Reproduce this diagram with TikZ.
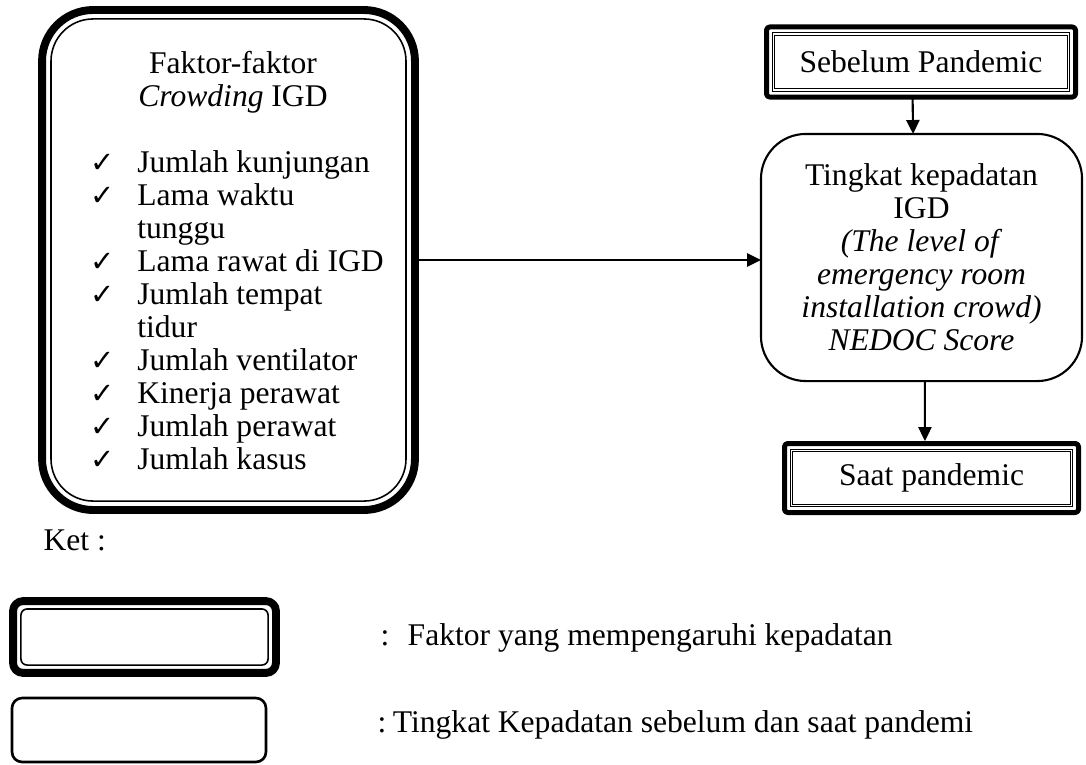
\documentclass[tikz,border=0pt]{standalone}
\usepackage{fontspec}
\setmainfont{Liberation Serif}
\newfontfamily\cekfont{DejaVu Sans}
\usetikzlibrary{arrows.meta}
\newcommand{\cek}{{\cekfont\fontsize{11}{11}\selectfont ✓}}

\begin{document}
\begin{tikzpicture}[
      x=0.38pt, y=-0.38pt,
      font=\fontsize{12}{12.54}\selectfont,
      kotak/.style={draw, line width=0.6pt, align=center, inner sep=0pt, outer sep=0pt},
      bulat/.style={draw, line width=0.8pt, rounded corners=17pt, align=center, inner sep=0pt, outer sep=0pt},
      ganda/.style={draw, double, line width=0.4pt, double distance=0.6pt, align=center, inner sep=0pt, outer sep=0pt},
      tebal/.style={line width=#1, line join=round},
      panah/.style={-{Triangle[length=5.3pt, width=5pt]}, line width=0.8pt},
      teks/.style={anchor=base west, inner sep=0pt}
    ]
    \useasboundingbox (0,0) rectangle (1086,764);
    % faktor crowding
    \node[kotak, rounded corners=16pt, minimum width=134.9pt, minimum height=183.2pt] (faktor) at (228.5,260) {};
    \draw[tebal=3pt, rounded corners=19.4pt] ([shift={(-3.4pt,3.4pt)}]faktor.north west) rectangle ([shift={(3.4pt,-3.4pt)}]faktor.south east);
    \node[teks, anchor=base] (judul) at (233,73) {\begin{tabular}[t]{@{}c@{}}Faktor-faktor\\\textit{Crowding} IGD\end{tabular}};
    \node[teks] (daftar) at (90,172) {\begin{tabular}[t]{@{}p{17.8pt}@{}l@{}}
      \cek & Jumlah kunjungan\\
      \cek & Lama waktu\\
           & tunggu\\
      \cek & Lama rawat di IGD\\
      \cek & Jumlah tempat\\
           & tidur\\
      \cek & Jumlah ventilator\\
      \cek & Kinerja perawat\\
      \cek & Jumlah perawat\\
      \cek & Jumlah kasus
    \end{tabular}};
    % sebelum / tingkat / saat
    \node[ganda, minimum width=112.1pt, minimum height=21.3pt] (sebelum) at (921,62) {Sebelum Pandemic};
    \draw[tebal=1.9pt, rounded corners=1.2pt] ([shift={(-2.66pt,2.66pt)}]sebelum.north west) rectangle ([shift={(2.66pt,-2.66pt)}]sebelum.south east);
    \node[bulat, minimum width=122pt, minimum height=93.9pt] (tingkat) at (921.5,257.5) {Tingkat kepadatan\\IGD\\\textit{(The level of}\\\textit{emergency room}\\\textit{installation crowd)}\\\textit{NEDOC Score}};
    \node[ganda, minimum width=106.4pt, minimum height=20.9pt] (saat) at (931.5,478) {Saat pandemic};
    \draw[tebal=1.9pt, rounded corners=1.2pt] ([shift={(-2.66pt,2.66pt)}]saat.north west) rectangle ([shift={(2.66pt,-2.66pt)}]saat.south east);
    \draw[panah] ([xshift=3.4pt]faktor.east) -- (faktor.east -| tingkat.west);
    \draw[panah] ([shift={(-3.2pt,-2.66pt)}]sebelum.south) -- ([xshift=-3.2pt]tingkat.north);
    \draw[panah] ([xshift=1.3pt]tingkat.south) -- ([shift={(-2.5pt,3.6pt)}]saat.north);
    % keterangan
    \node[teks] (ket) at (43,550) {Ket :};
    \node[kotak, rounded corners=2.3pt, minimum width=93.9pt, minimum height=21.3pt] (legenda1) at (144.5,637) {};
    \draw[tebal=3pt, rounded corners=3.8pt] ([shift={(-3pt,3pt)}]legenda1.north west) rectangle ([shift={(3pt,-3pt)}]legenda1.south east);
    \node[kotak, line width=1pt, rounded corners=3.8pt, minimum width=96.5pt, minimum height=24.3pt] (legenda2) at (139,730) {};
    \node[teks] (ket1) at (380,645) {:\hspace{7pt}Faktor yang mempengaruhi kepadatan};
    \node[teks] (ket2) at (377,732) {:\hspace{2.5pt}Tingkat Kepadatan sebelum dan saat pandemi};
  \end{tikzpicture}
\end{document}
